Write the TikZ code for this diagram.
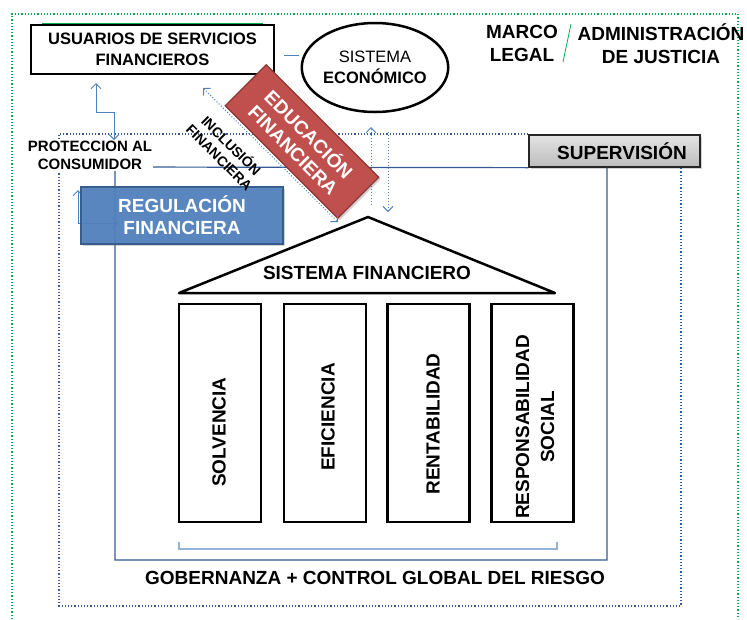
\documentclass[tikz,border=0pt]{standalone}
\usepackage{fontspec}
\setmainfont{Liberation Sans}
\usepackage{tikz}
\usetikzlibrary{calc,shapes.geometric,shadows,arrows.meta}
\usepackage{xcolor}
\definecolor{verde}{HTML}{00B050}
\definecolor{azulclaro}{HTML}{4F81BD}
\definecolor{azulcaja}{HTML}{4F81BD}
\definecolor{azulborde}{HTML}{385D8A}
\definecolor{azullinea}{HTML}{365A94}
\definecolor{azulllave}{HTML}{95B3D7}
\definecolor{rojo}{HTML}{C0504D}
\definecolor{rojoborde}{HTML}{8C3836}
\newcommand{\letragrande}{\fontsize{19}{22}\selectfont\bfseries}
\newcommand{\letramedia}{\fontsize{16.5}{21}\selectfont\bfseries}
\newcommand{\pilar}[2]{\node[pilar] (#1) at (#2,413) {};}
\tikzset{
	caja/.style={draw=black,line width=2.5pt,fill=white,align=center,inner sep=0pt},
	pilar/.style={draw=black,line width=2.5pt,minimum width=82pt,minimum height=218pt,inner sep=0pt},
	pilartxt/.style={rotate=90,align=center,font=\letragrande,inner sep=0pt},
	flecha/.style={azulclaro,line width=1pt,{Straight Barb[length=5pt,width=10pt]}-{Straight Barb[length=5pt,width=10pt]}},
	flechapunt/.style={flecha,dotted},
	sombra/.style={drop shadow={shadow xshift=2pt,shadow yshift=-2pt,opacity=0.35}}
}

\begin{document}
\begin{tikzpicture}[x=1pt,y=-1pt]
		\useasboundingbox (0,0) rectangle (747,619);
		
		% marcos
		\draw[verde,dotted,line width=1.2pt] (12,619) -- (12,14) -- (738,14) -- (738,619);
		\draw[verde,line width=0.6pt] (42,23) -- (263,23);
		
		\node[draw=black!85,line width=1.3pt,top color=gray!22,bottom color=gray!52,minimum width=171pt,minimum height=32pt,inner sep=0pt,font=\letragrande,sombra] (supervision) at (614.5,151) {\hspace*{15pt}SUPERVISIÓN};
		
		\draw[azullinea,dotted,line width=1.2pt] (supervision.north west |- 0,134) -- (59,134) -- (59,606) -- (681,606) -- (supervision.south -| 681,0);
		\draw[azullinea,line width=1.2pt] (supervision.south west) -- (115,167) -- (115,560) -- (607,560) -- (supervision.south -| 607,0);
		
		% entorno
		\node[caja,minimum width=243pt,minimum height=49pt,font=\letramedia] (usuarios) at (152.5,49.5) {USUARIOS DE SERVICIOS\\FINANCIEROS};
		\node[draw=black,line width=2.5pt,ellipse,minimum width=130pt,minimum height=89pt,inner sep=0pt,align=center,font=\fontsize{16.5}{21}\selectfont] (economico) at (375,67.5) {SISTEMA\\\textbf{ECONÓMICO}};
		\draw[azulclaro,line width=1pt] ($(usuarios.east)+(9,5.5)$) -- ($(economico.west)+(-2,-12.5)$);
		
		\node[align=center,font=\fontsize{19}{23}\selectfont\bfseries,inner sep=0pt] (marco) at (522,43.5) {MARCO\\LEGAL};
		\node[align=center,font=\fontsize{19}{23}\selectfont\bfseries,inner sep=0pt] (justicia) at (661,43.5) {ADMINISTRACIÓN\\DE JUSTICIA};
		\draw[verde,line width=0.8pt] (571,24) -- (563,62);
		
		\node[align=center,font=\fontsize{15}{18}\selectfont\bfseries,fill=white,inner sep=1pt] (proteccion) at (90,155.5) {PROTECCION AL\\CONSUMIDOR};
		\coordinate (protA) at (96,83);
		\coordinate (protB) at (114,140);
		\draw[flecha] (protA) -- (96,112) -| (protB);
		
		% regulacion
		\coordinate (regA) at (78,190);
		\coordinate (regB) at (118,223);
		\draw[flecha] (regA) |- (regB);
		\node[draw=azulborde,line width=2.2pt,fill=azulcaja,fill opacity=0.92,text opacity=1,text=white,minimum width=202pt,minimum height=57pt,align=center,font=\letragrande,inner sep=0pt,sombra] (regulacion) at (182,215.5) {REGULACIÓN\\FINANCIERA};
		
		% educacion e inclusion
		\node[draw=rojoborde,line width=1.2pt,fill=rojo,text=white,rotate=-45,minimum width=159pt,minimum height=58pt,align=center,font=\letragrande,inner sep=0pt,sombra] (educacion) at (302,141.5) {EDUCACIÓN\\FINANCIERA};
		\coordinate (inclA) at (203,88);
		\coordinate (inclB) at (338,222);
		\draw[flechapunt] (inclA) -- (inclB);
		\node[rotate=-45,align=center,font=\fontsize{14}{17}\selectfont\bfseries,inner sep=0pt] (inclusion) at (226,151) {INCLUSIÓN\\FINANCIERA};
		
		\coordinate (ecoA) at (371,205);
		\coordinate (ecoB) at (371,127);
		\coordinate (ecoC) at (388,132);
		\coordinate (ecoD) at (388,212);
		\draw[azulclaro,dotted,line width=1pt,-{Straight Barb[length=5pt,width=10pt]}] (ecoA) -- (ecoB);
		\draw[azulclaro,dotted,line width=1pt,-{Straight Barb[length=5pt,width=10pt]}] (ecoC) -- (ecoD);
		
		% sistema financiero
		\draw[black,line width=2.5pt,line join=round] (368,217) -- (555,293) -- (179,293) -- cycle;
		\node[font=\letragrande,inner sep=0pt] (sistema) at (367,273) {SISTEMA FINANCIERO};
		
		\pilar{solvencia}{220}
		\pilar{eficiencia}{325}
		\pilar{rentabilidad}{428.5}
		\pilar{responsabilidad}{532.5}
		
		\node[pilartxt] (solvtxt) at (219,432) {SOLVENCIA};
		\node[pilartxt] (efictxt) at (328,417) {EFICIENCIA};
		\node[pilartxt] (renttxt) at (433,424) {RENTABILIDAD};
		\node[pilartxt,font=\fontsize{19}{25}\selectfont\bfseries] (resptxt) at (535,427) {RESPONSABILIDAD\\SOCIAL};
		
		\draw[azulllave,line width=1.2pt] (179,542) -- (179,549) -- (557,549) -- (557,542);
		\node[font=\letragrande,inner sep=0pt] (gobernanza) at (375,578) {GOBERNANZA + CONTROL GLOBAL DEL RIESGO};
		
	\end{tikzpicture}
\end{document}
